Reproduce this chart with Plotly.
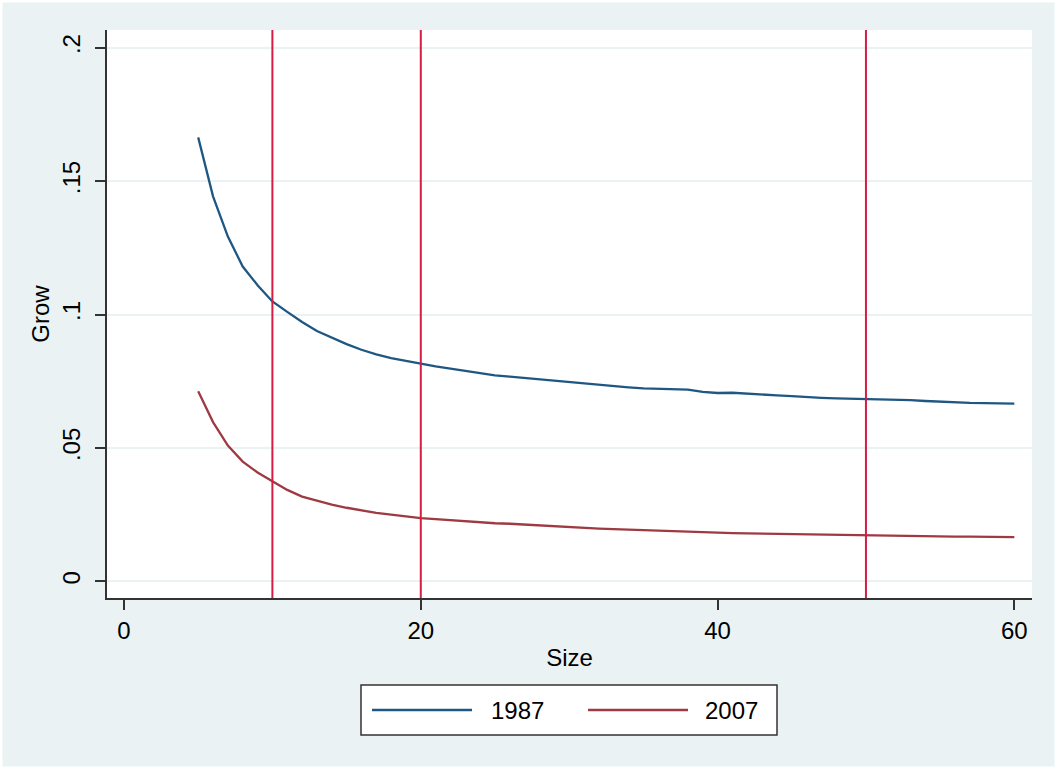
import plotly.graph_objects as go

# Firm size (x) and growth rates for the two survey years
size = list(range(5, 61))

grow_1987 = [
    .1664, .1443, .1292, .1180, .1110, .1049, .1010, .0972, .0938, .0912,
    .0889, .0868, .0851, .0837, .0826, .0816, .0806, .0797, .0789, .0779,
    .0772, .0767, .0762, .0757, .0751, .0745, .0740, .0735, .0731, .0727,
    .0723, .0721, .0720, .0719, .0710, .0706, .0707, .0703, .0699, .0697,
    .0694, .0690, .0688, .0686, .0685, .0684, .0683, .0681, .0679, .0676,
    .0673, .0671, .0669, .0668, .0667, .0666,
]

grow_2007 = [
    .0713, .0597, .0509, .0449, .0408, .0376, .0343, .0318, .0302, .0288,
    .0276, .0266, .0257, .0250, .0243, .0237, .0233, .0229, .0225, .0221,
    .0218, .0216, .0213, .0210, .0206, .0202, .0200, .0198, .0196, .0194,
    .0191, .0189, .0188, .0186, .0185, .0183, .0181, .0180, .0179, .0177,
    .0176, .0175, .0174, .0174, .0173, .0173, .0172, .0171, .0170, .0170,
    .0169, .0168, .0168, .0167, .0167, .0166,
]

series_names = ["1987", "2007"]
ref_lines = [10, 20, 50]

x_ticks = [0, 20, 40, 60]
y_ticks = [0, 0.05, 0.1, 0.15, 0.2]
y_tick_text = ["0", ".05", ".1", ".15", ".2"]

BLUE = "#1F5783"
RED = "#9E3A42"
VLINE = "#D51D44"
BG = "#EAF2F3"
AXIS = "#333333"
FONT = "Liberation Sans, Arial, sans-serif"

fig = go.Figure()
fig.add_trace(go.Scatter(x=size, y=grow_1987, mode="lines", name=series_names[0],
                         line=dict(color=BLUE, width=2.3)))
fig.add_trace(go.Scatter(x=size, y=grow_2007, mode="lines", name=series_names[1],
                         line=dict(color=RED, width=2.3)))

for xv in ref_lines:
    fig.add_vline(x=xv, line=dict(color=VLINE, width=2), layer="above")

# plot area in pixels: left 107, right 1032, top 30, bottom 598
L, R, T, B = 107, 1032, 30, 598
W, H = R - L, B - T


def px(xp):
    return (xp - L) / W


def py(yp):
    return (B - yp) / H


shapes = []
# thin white frame around the whole graph region
shapes.append(dict(type="rect", xref="paper", yref="paper",
                   x0=px(0), x1=px(1057), y0=py(769), y1=py(0),
                   line=dict(color="white", width=5), fillcolor="rgba(0,0,0,0)",
                   layer="above"))
# legend box
shapes.append(dict(type="rect", xref="paper", yref="paper",
                   x0=px(361), x1=px(777), y0=py(735), y1=py(685),
                   line=dict(color=AXIS, width=1.5), fillcolor="white"))
# legend keys
legend_keys = [(372, 472, BLUE, 489), (588, 688, RED, 703)]
annotations = []
for (x0, x1, col, tx), name in zip(legend_keys, series_names):
    shapes.append(dict(type="line", xref="paper", yref="paper",
                       x0=px(x0), x1=px(x1), y0=py(710), y1=py(710),
                       line=dict(color=col, width=2.3)))
    annotations.append(dict(xref="paper", yref="paper", x=px(tx), y=py(710),
                            text=name, showarrow=False, xanchor="left",
                            yanchor="middle",
                            font=dict(family=FONT, size=24, color="black")))

fig.update_layout(
    width=1057, height=769,
    margin=dict(l=L, r=1057 - R, t=T, b=769 - B),
    paper_bgcolor=BG, plot_bgcolor="white",
    font=dict(family=FONT, size=24, color="black"),
    showlegend=False,
    shapes=list(fig.layout.shapes) + shapes,
    annotations=annotations,
)

fig.update_xaxes(
    range=[-1.146, 61.19], tickvals=x_ticks, ticks="outside", ticklen=10,
    tickwidth=1.5, tickcolor=AXIS, showline=True, linecolor=AXIS, linewidth=2,
    showgrid=False, zeroline=False,
    title=dict(text="Size", standoff=6, font=dict(size=24)),
    tickfont=dict(size=24),
)
fig.update_yaxes(
    range=[-0.00622, 0.20663], tickvals=y_ticks, ticktext=y_tick_text,
    tickangle=-90, ticks="outside", ticklen=10, tickwidth=1.5, tickcolor=AXIS,
    showline=True, linecolor=AXIS, linewidth=2, ticklabelstandoff=5,
    showgrid=True, gridcolor=BG, gridwidth=1.5, zeroline=False,
    title=dict(text="Grow", standoff=2, font=dict(size=24)),
    tickfont=dict(size=24),
)

fig.write_html("out.html")
